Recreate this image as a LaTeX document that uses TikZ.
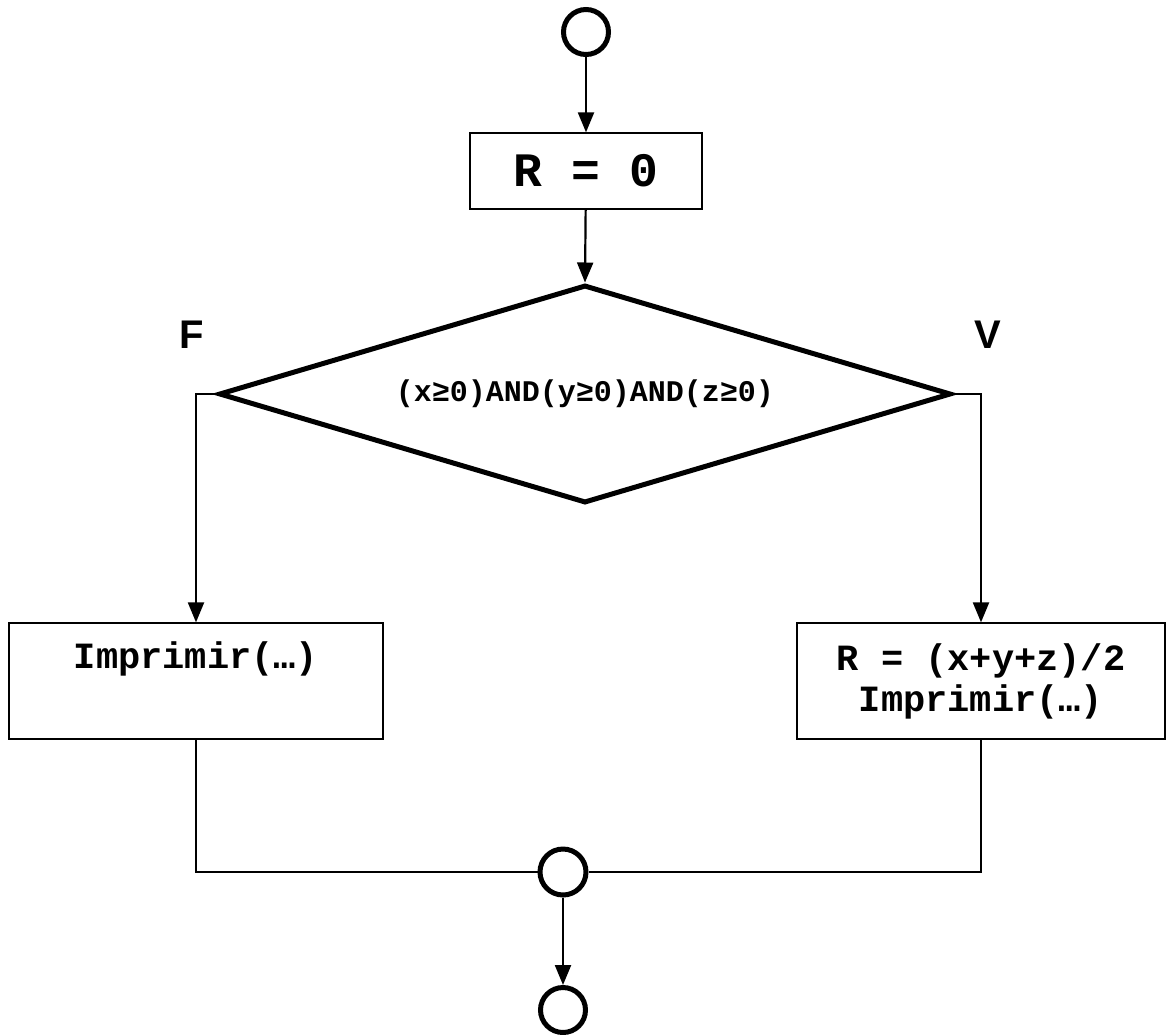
\documentclass[tikz,border=0pt]{standalone}
\usepackage{fontspec}
\setmonofont{Liberation Mono}
\newfontfamily\lblfont{Liberation Sans}
\usetikzlibrary{shapes.geometric,arrows.meta}
\tikzset{
  term/.style={circle,draw,line width=5pt,minimum size=45pt,inner sep=0pt},
  procbox/.style={rectangle,draw,line width=1.3pt,inner sep=0pt,align=center,font=\ttfamily\bfseries\fontsize{37}{37}\selectfont},
  cond/.style={diamond,draw,line width=5pt,aspect=3.36,minimum width=732pt,minimum height=218pt,inner sep=0pt,font=\ttfamily\bfseries\fontsize{30}{30}\selectfont},
  arr/.style={line width=2.2pt,-{Triangle[length=20pt,width=16pt]}},
  conn/.style={line width=2pt},
  branchlbl/.style={font=\lblfont\bfseries\fontsize{40}{40}\selectfont}
}
\begin{document}
\begin{tikzpicture}[x=1pt,y=-1pt]
\useasboundingbox (0,0) rectangle (1167,1034);
\node[term] (start) at (586,32) {};
\node[procbox,minimum width=232pt,minimum height=76pt,font=\ttfamily\bfseries\fontsize{48}{48}\selectfont] (r0) at (586,171) {R = 0};
\node[cond] (d) at (585,394) {(x≥0)AND(y≥0)AND(z≥0)};
\node[branchlbl] (F) at (192,335) {F};
\node[branchlbl] (V) at (988,335) {V};
\node[procbox,minimum width=374pt,minimum height=116pt] (lbox) at (196,681) {Imprimir(…)\\[4pt]\strut};
\node[procbox,minimum width=368pt,minimum height=116pt] (rbox) at (981,681) {R = (x+y+z)/2\\[4pt]Imprimir(…)};
\node[term,minimum size=46pt] (mid) at (563,872) {};
\node[term] (stop) at (563,1010) {};
\draw[arr] (start) -- (r0);
\draw[arr] (r0) -- (d.north);
\draw[arr] (d.west) -| (lbox.north);
\draw[arr] (d.east) -| (rbox.north);
\draw[conn] (lbox.south) |- (mid.west);
\draw[conn] (rbox.south) |- (mid.east);
\draw[arr] (mid) -- (stop);
\end{tikzpicture}
\end{document}
